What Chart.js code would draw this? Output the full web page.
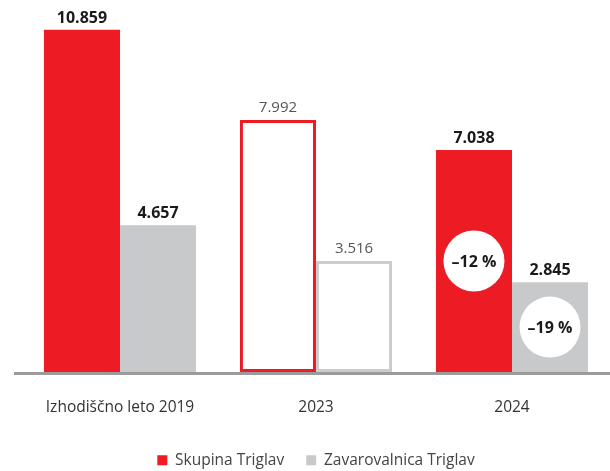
<!DOCTYPE html>
<html>
<head>
<meta charset="utf-8">
<script src="https://cdn.jsdelivr.net/npm/chart.js@4.4.1/dist/chart.umd.min.js"></script>
<style>
html,body{margin:0;padding:0;background:#fff;overflow:hidden;}
#wrap{width:610px;height:478px;position:relative;}
</style>
</head>
<body>
<div id="wrap"><canvas id="c"></canvas></div>
<script>
// Data
const categories = ['Izhodiščno leto 2019', '2023', '2024'];
const seriesNames = ['Skupina Triglav', 'Zavarovalnica Triglav'];
const skupinaValues = [10.859, 7.992, 7.038];
const zavarovalnicaValues = [4.657, 3.516, 2.845];
const valueLabelsSkupina = ['10.859', '7.992', '7.038'];
const valueLabelsZavarovalnica = ['4.657', '3.516', '2.845'];
const changeLabels = ['–12 %', '–19 %'];

const RED = '#ED1C24';
const GREY = '#C8C9CB';
const FONT = "'Open Sans', 'Noto Sans', sans-serif";

const valueLabels = [valueLabelsSkupina, valueLabelsZavarovalnica];

const labelPlugin = {
  id: 'labels',
  afterDatasetsDraw(chart) {
    const ctx = chart.ctx;
    const yScale = chart.scales.y;
    const base = yScale.getPixelForValue(0);
    // baseline
    ctx.save();
    ctx.strokeStyle = '#9b9b9b';
    ctx.lineWidth = 3;
    ctx.beginPath();
    ctx.moveTo(14, base + 1.5);
    ctx.lineTo(chart.width, base + 1.5);
    ctx.stroke();
    ctx.restore();

    chart.data.datasets.forEach((ds, di) => {
      const meta = chart.getDatasetMeta(di);
      meta.data.forEach((bar, i) => {
        const isOutline = i === 1;
        ctx.save();
        ctx.textAlign = 'center';
        ctx.textBaseline = 'alphabetic';
        if (isOutline) {
          ctx.font = '400 15px ' + FONT;
          ctx.fillStyle = '#555555';
          ctx.fillText(valueLabels[di][i], bar.x, bar.y - 8);
        } else {
          ctx.font = '700 16px ' + FONT;
          ctx.fillStyle = '#1a1a1a';
          ctx.fillText(valueLabels[di][i], bar.x, bar.y - 7);
        }
        ctx.restore();
        if (i === 2) {
          const cy = (bar.y + base) / 2;
          ctx.save();
          ctx.fillStyle = '#ffffff';
          ctx.beginPath();
          ctx.arc(bar.x, cy, 30.5, 0, Math.PI * 2);
          ctx.fill();
          ctx.font = '700 16px ' + FONT;
          ctx.fillStyle = '#1a1a1a';
          ctx.textAlign = 'center';
          ctx.textBaseline = 'middle';
          ctx.fillText(changeLabels[di], bar.x, cy + 1);
          ctx.restore();
        }
      });
    });
  }
};

new Chart(document.getElementById('c'), {
  type: 'bar',
  data: {
    labels: categories,
    datasets: [
      {
        label: seriesNames[0],
        data: skupinaValues,
        backgroundColor: [RED, '#ffffff', RED],
        borderColor: RED,
        borderWidth: [0, 3, 0],
        borderSkipped: false,
        categoryPercentage: 0.776,
        barPercentage: 1.0
      },
      {
        label: seriesNames[1],
        data: zavarovalnicaValues,
        backgroundColor: [GREY, '#ffffff', GREY],
        borderColor: '#CCCCCC',
        borderWidth: [0, 3, 0],
        borderSkipped: false,
        categoryPercentage: 0.776,
        barPercentage: 1.0
      }
    ]
  },
  options: {
    responsive: true,
    maintainAspectRatio: false,
    animation: false,
    layout: { padding: { left: 22, right: 0, top: 0, bottom: 0 } },
    scales: {
      x: {
        grid: { display: false },
        border: { display: false },
        ticks: { color: '#333333', font: { family: FONT, size: 15.5 }, padding: 18 },
        afterFit(scale) { scale.height -= 4; }
      },
      y: {
        display: false,
        min: 0,
        max: 11.8
      }
    },
    plugins: {
      legend: {
        position: 'bottom',
        labels: {
          generateLabels(chart) {
            return chart.data.datasets.map((ds, i) => ({
              text: ds.label,
              fillStyle: i === 0 ? RED : GREY,
              strokeStyle: i === 0 ? RED : GREY,
              lineWidth: 0,
              datasetIndex: i,
              fontColor: '#444444'
            }));
          },
          boxWidth: 10,
          boxHeight: 10,
          padding: 22,
          color: '#444444',
          font: { family: FONT, size: 15.5 }
        }
      },
      tooltip: { enabled: false }
    }
  },
  plugins: [labelPlugin]
});
</script>
</body>
</html>
